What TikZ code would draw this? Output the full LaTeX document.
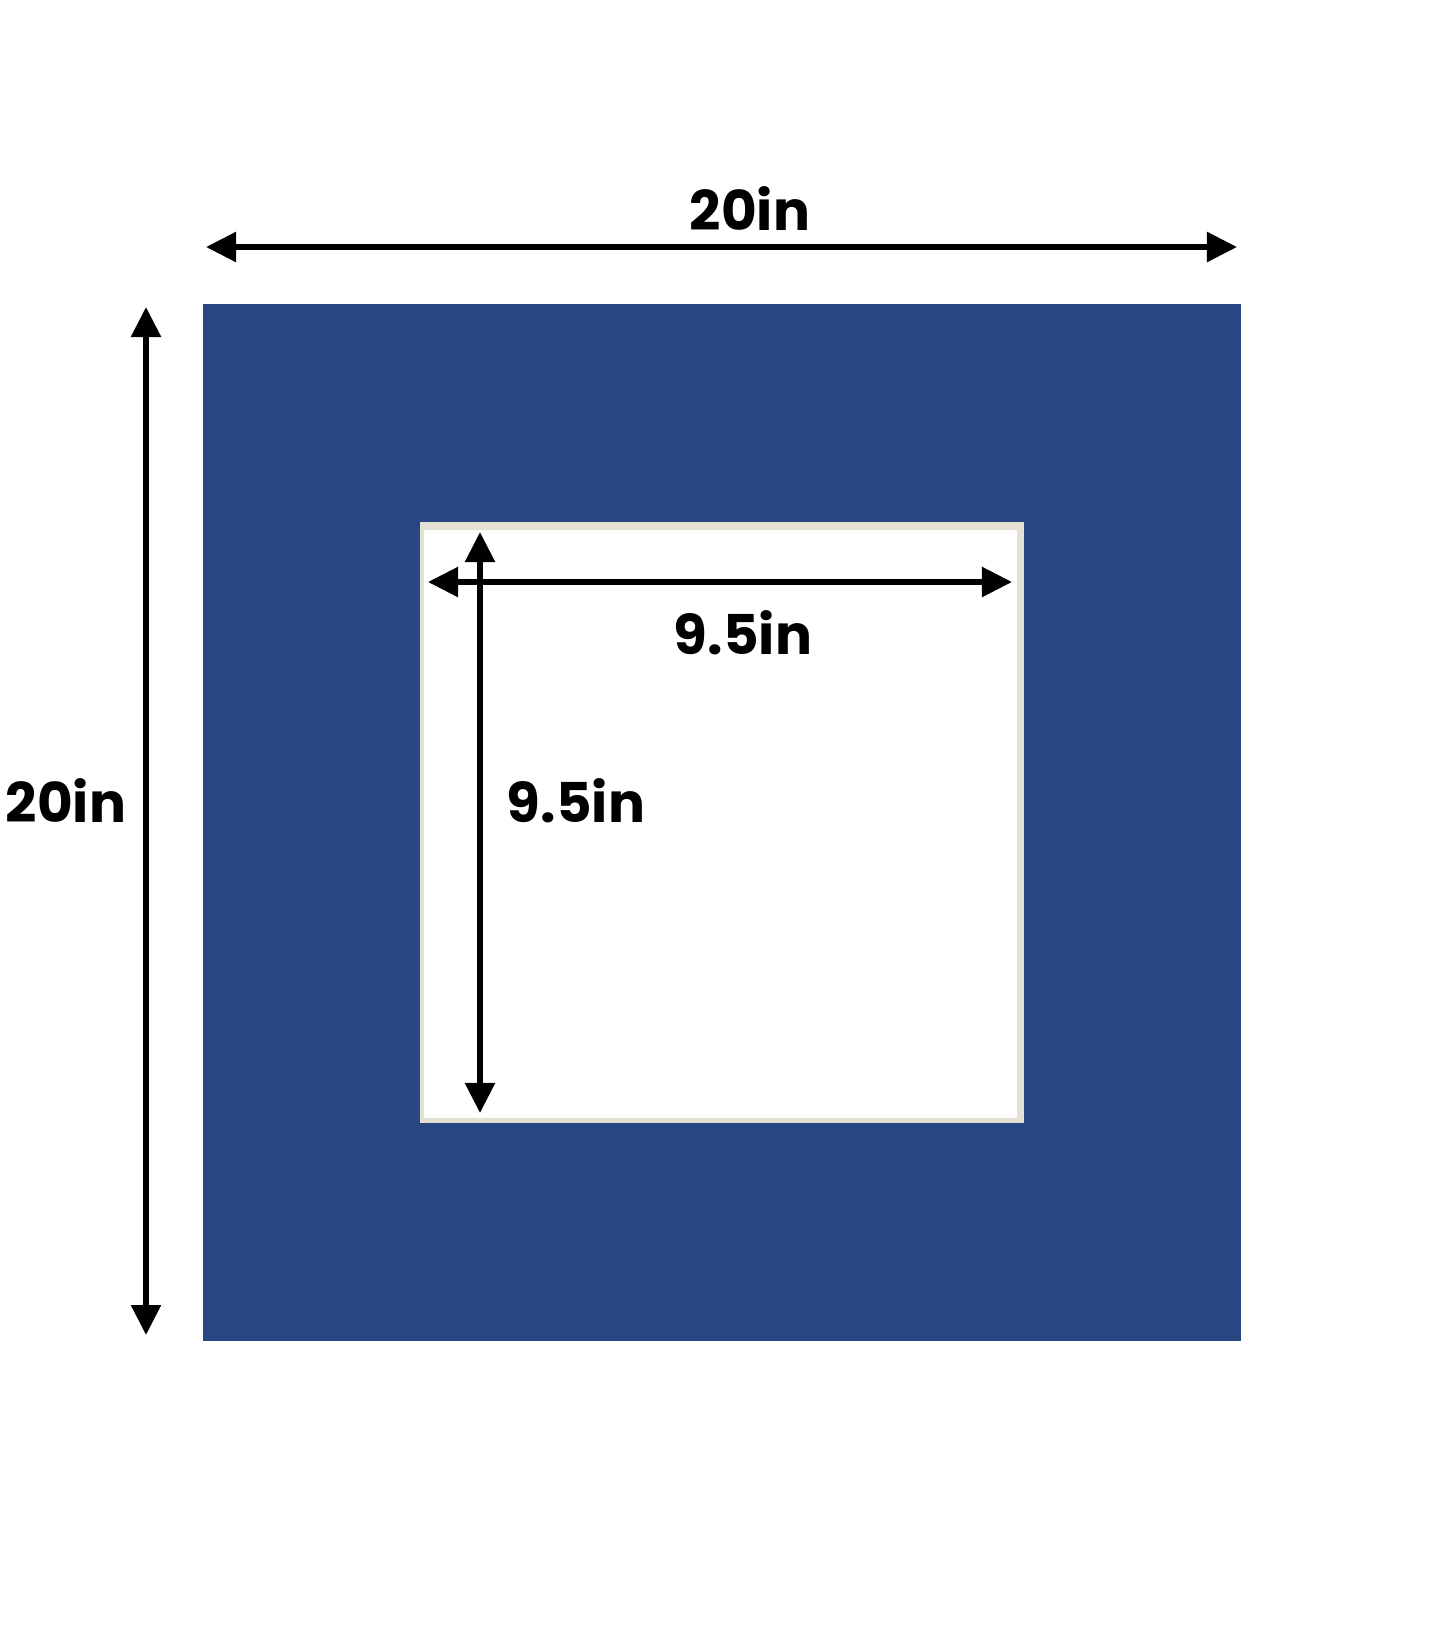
\documentclass[tikz,border=0pt]{standalone}
\usepackage{fontspec}
\setmainfont{Poppins}
\usetikzlibrary{arrows.meta}
\definecolor{matblue}{RGB}{40,70,130}
\definecolor{bevel}{RGB}{228,225,212}

\begin{document}
\begin{tikzpicture}[x=0.01cm,y=-0.01cm,
  dimline/.style={line width=0.055cm,
    {Triangle[length=0.3cm,width=0.29cm]}-{Triangle[length=0.3cm,width=0.29cm]}},
  lbl/.style={font=\bfseries\fontsize{15.6}{16}\selectfont,anchor=base,inner sep=0pt}]
\useasboundingbox[fill=white] (0,0) rectangle (1445,1645);

% mat board and window
\fill[matblue] (203,304) rectangle (1241,1341);
\fill[bevel] (420,522) rectangle (1024,1123);
\fill[white] (424,530) rectangle (1017,1118);

% ends of the dimension lines
\coordinate (wl) at (206,247);
\coordinate (wr) at (1237,247);
\coordinate (ht) at (146,307);
\coordinate (hb) at (146,1335);
\coordinate (iwl) at (428,582);
\coordinate (iwr) at (1012,582);
\coordinate (iht) at (480,532);
\coordinate (ihb) at (480,1113);

\draw[dimline] (wl) -- (wr);
\draw[dimline] (ht) -- (hb);
\draw[dimline] (iwl) -- (iwr);
\draw[dimline] (iht) -- (ihb);

\node[lbl] (wlbl) at (750,230) {20in};
\node[lbl] (hlbl) at (66,822) {20in};
\node[lbl] (iwlbl) at (743,654) {9.5in};
\node[lbl] (ihlbl) at (576,822) {9.5in};

\end{tikzpicture}
\end{document}
